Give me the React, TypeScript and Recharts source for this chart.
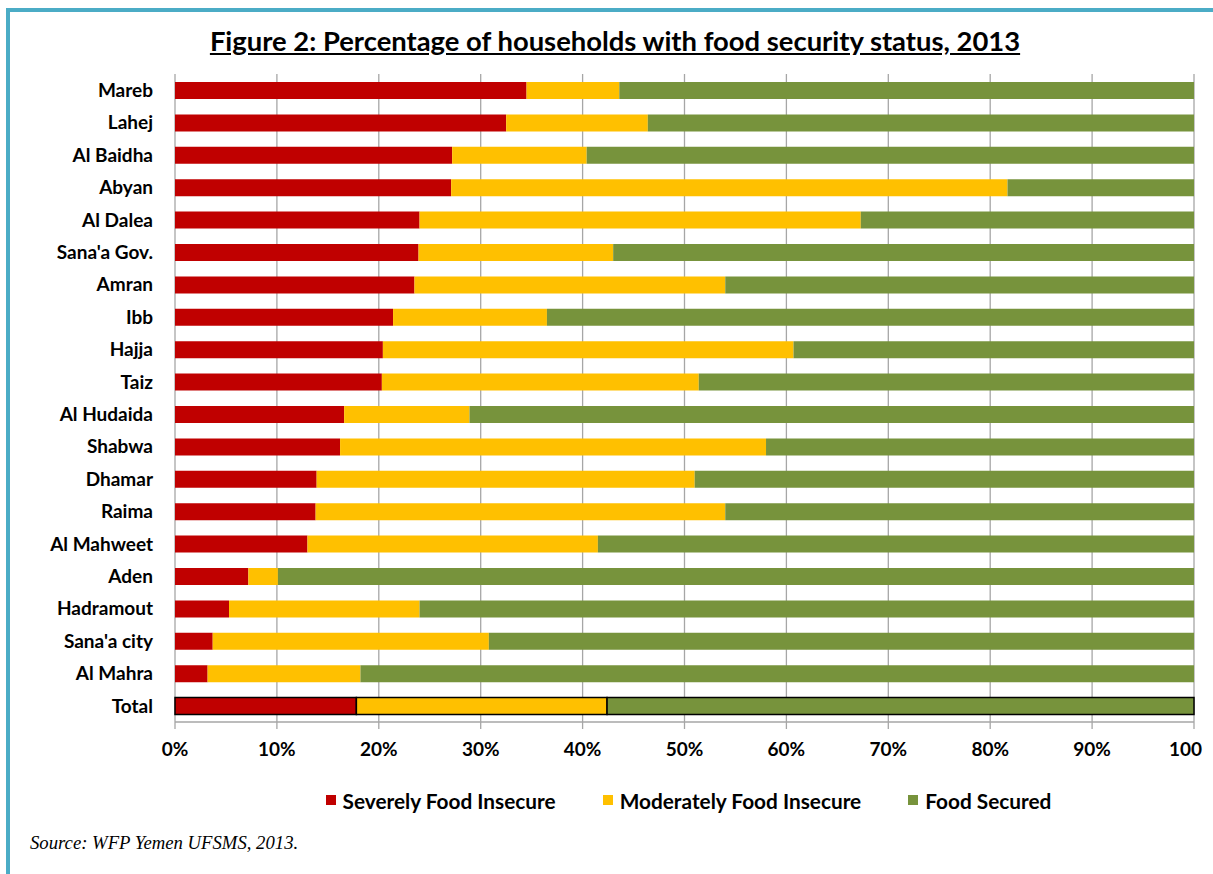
import React from "react";
import { BarChart, Bar, XAxis, YAxis, CartesianGrid, Legend, Cell } from "recharts";

const categories = [
  "Mareb", "Lahej", "Al Baidha", "Abyan", "Al Dalea", "Sana'a Gov.", "Amran", "Ibb", "Hajja", "Taiz",
  "Al Hudaida", "Shabwa", "Dhamar", "Raima", "Al Mahweet", "Aden", "Hadramout", "Sana'a city", "Al Mahra", "Total",
];
const severe = [34.5, 32.5, 27.2, 27.1, 24.0, 23.9, 23.5, 21.4, 20.4, 20.3, 16.6, 16.2, 13.9, 13.8, 13.0, 7.2, 5.3, 3.7, 3.2, 17.8];
const moderate = [9.1, 13.9, 13.2, 54.6, 43.3, 19.1, 30.5, 15.1, 40.3, 31.1, 12.3, 41.8, 37.1, 40.2, 28.5, 2.9, 18.7, 27.1, 15.0, 24.6];
const secured = [56.4, 53.6, 59.6, 18.3, 32.7, 57.0, 46.0, 63.5, 39.3, 48.6, 71.1, 42.0, 49.0, 46.0, 58.5, 89.9, 76.0, 69.2, 81.8, 57.6];
const xTicks = [0, 10, 20, 30, 40, 50, 60, 70, 80, 90, 100];
const boundaryTicks = [0, 1, 2, 3, 4, 5, 6, 7, 8, 9, 10, 11, 12, 13, 14, 15, 16, 17, 18, 19, 20];
const seriesNames = ["Severely Food Insecure", "Moderately Food Insecure", "Food Secured"];
const seriesColors = ["#C00000", "#FFC000", "#77933C"];
const seriesKeys = ["severe", "moderate", "secured"];

const data = categories.map((name, i) => ({
  name,
  severe: severe[i],
  moderate: moderate[i],
  secured: secured[i],
}));

const FONT = "Lato, 'Noto Sans', sans-serif";
const GRID = "#A6A6A6";

const LegendContent = () => (
  <div style={{ display: "flex", justifyContent: "center", alignItems: "center", height: 24, paddingLeft: 183, fontFamily: FONT, fontWeight: 700, fontSize: 20.8, color: "#000" }}>
    {seriesNames.map((n, i) => (
      <div key={n} style={{ display: "flex", alignItems: "center", marginRight: i < 2 ? 47 : 0 }}>
        <span style={{ display: "inline-block", width: 10, height: 10, background: seriesColors[i], marginRight: 7 }} />
        <span>{n}</span>
      </div>
    ))}
  </div>
);

const XTick = (props: any) => {
  const { x, y, payload } = props;
  const v = payload.value;
  const last = v === 100;
  return (
    <text
      x={last ? x - 25 : x}
      y={y}
      dy="0.71em"
      textAnchor={last ? "start" : "middle"}
      fill="#000"
      fontFamily={FONT}
      fontWeight={700}
      fontSize={19}
    >
      {last ? "100" : `${v}%`}
    </text>
  );
};

export default function App() {
  return (
    <div style={{ position: "absolute", left: 0, top: 0, width: 1213, height: 874, background: "#fff", overflow: "hidden" }}>
      <div style={{ position: "absolute", left: 6, top: 8, width: 1207, height: 866, borderTop: "4px solid #4BACC6", borderLeft: "4px solid #4BACC6", boxSizing: "border-box" }} />
      <div style={{ position: "absolute", left: 615, top: 25, transform: "translateX(-50%)", whiteSpace: "nowrap", fontFamily: FONT, fontWeight: 700, fontSize: 27.4, lineHeight: "32px", textDecoration: "underline", color: "#000" }}>
        Figure 2: Percentage of households with food security status, 2013
      </div>
      <div style={{ position: "absolute", left: 0, top: 0 }}>
        <BarChart
          layout="vertical"
          width={1203}
          height={830}
          data={data}
          margin={{ top: 74, right: 9, bottom: 18, left: 0 }}
          barSize={17}
        >
          <CartesianGrid horizontal={false} vertical={true} stroke={GRID} strokeWidth={1.3} />
          <XAxis
            type="number"
            domain={[0, 100]}
            ticks={xTicks}
            interval={0}
            axisLine={{ stroke: GRID, strokeWidth: 1.3 }}
            tickLine={{ stroke: GRID, strokeWidth: 1.3 }}
            tickSize={7}
            tickMargin={14}
            height={66}
            tick={<XTick />}
          />
          <YAxis
            yAxisId="bounds"
            type="number"
            domain={[0, 20]}
            ticks={boundaryTicks}
            interval={0}
            width={0}
            tick={false}
            tickSize={5}
            axisLine={{ stroke: GRID, strokeWidth: 1.3 }}
            tickLine={{ stroke: GRID, strokeWidth: 1.3 }}
          />
          <YAxis
            yAxisId="cat"
            type="category"
            dataKey="name"
            width={175}
            interval={0}
            axisLine={false}
            tickLine={false}
            tickSize={0}
            tickMargin={22}
            tick={{ fill: "#000", fontFamily: FONT, fontWeight: 700, fontSize: 19 }}
          />
          <Legend verticalAlign="bottom" height={24} content={<LegendContent />} />
          {seriesKeys.map((k, si) => (
            <Bar key={k} dataKey={k} name={seriesNames[si]} stackId="a" yAxisId="cat" fill={seriesColors[si]} isAnimationActive={false}>
              {data.map((d) => (
                <Cell key={d.name} fill={seriesColors[si]} stroke={d.name === "Total" ? "#000" : "none"} strokeWidth={d.name === "Total" ? 1.5 : 0} />
              ))}
            </Bar>
          ))}
        </BarChart>
      </div>
      <div style={{ position: "absolute", left: 30, top: 832, fontFamily: "'Liberation Serif', 'Times New Roman', serif", fontStyle: "italic", fontSize: 18.7, color: "#000", whiteSpace: "nowrap" }}>
        Source: WFP Yemen UFSMS, 2013.
      </div>
    </div>
  );
}
